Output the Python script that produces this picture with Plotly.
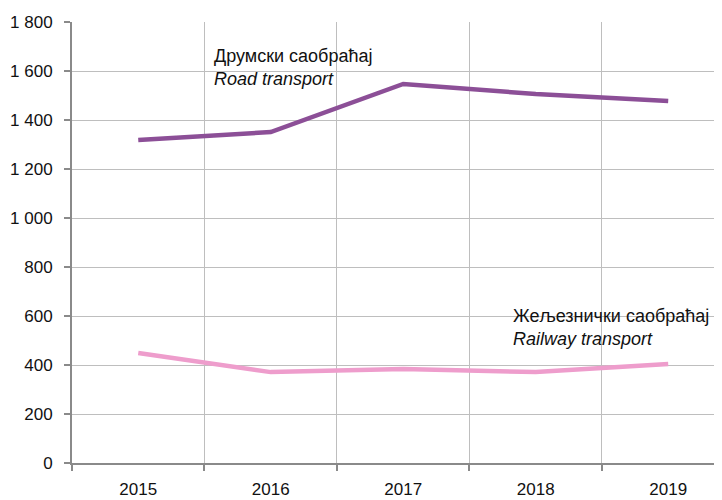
import plotly.graph_objects as go

years = ["2015", "2016", "2017", "2018", "2019"]
road = [1318, 1351, 1547, 1506, 1478]
rail = [449, 371, 384, 371, 404]
y_ticks = [0, 200, 400, 600, 800, 1000, 1200, 1400, 1600, 1800]

FONT = "Liberation Sans, Arial, sans-serif"

fig = go.Figure()
fig.add_trace(go.Scatter(x=years, y=road, mode="lines",
                         line=dict(color="#8C4F97", width=4.5), showlegend=False))
fig.add_trace(go.Scatter(x=years, y=rail, mode="lines",
                         line=dict(color="#EE9DCC", width=4.5), showlegend=False))

fig.add_annotation(x=0.555, y=1616, xref="x", yref="y", xanchor="left", yanchor="middle",
                   text="Друмски саобраћај<br><i>Road transport</i>", align="left",
                   showarrow=False, font=dict(family=FONT, size=18, color="#111"))
fig.add_annotation(x=2.81, y=555, xref="x", yref="y", xanchor="left", yanchor="middle",
                   text="Жељезнички саобраћај<br><i>Railway transport</i>", align="left",
                   showarrow=False, font=dict(family=FONT, size=18, color="#111"))

fig.update_layout(
    width=722, height=500,
    margin=dict(l=64, r=8, t=14, b=45),
    paper_bgcolor="white", plot_bgcolor="white",
    separators=". ",
    font=dict(family=FONT, size=17, color="#111"),
    xaxis=dict(type="category", range=[-0.5, 4.406], tickson="boundaries",
               automargin=False, ticklabelstandoff=10,
               showgrid=True, gridcolor="#BEBEBE", gridwidth=1,
               showline=True, linecolor="#8A8A8A", linewidth=2,
               ticks="outside", ticklen=6, tickcolor="#8A8A8A", tickwidth=2,
               tickfont=dict(family=FONT, size=17), zeroline=False),
    yaxis=dict(range=[0, 1800], tickvals=y_ticks, tickformat=",d",
               automargin=False, ticklabelstandoff=8,
               showgrid=True, gridcolor="#BEBEBE", gridwidth=1,
               showline=True, linecolor="#8A8A8A", linewidth=2,
               ticks="outside", ticklen=6, tickcolor="#8A8A8A", tickwidth=2,
               tickfont=dict(family=FONT, size=17), zeroline=False),
)

fig.write_html("out.html")
